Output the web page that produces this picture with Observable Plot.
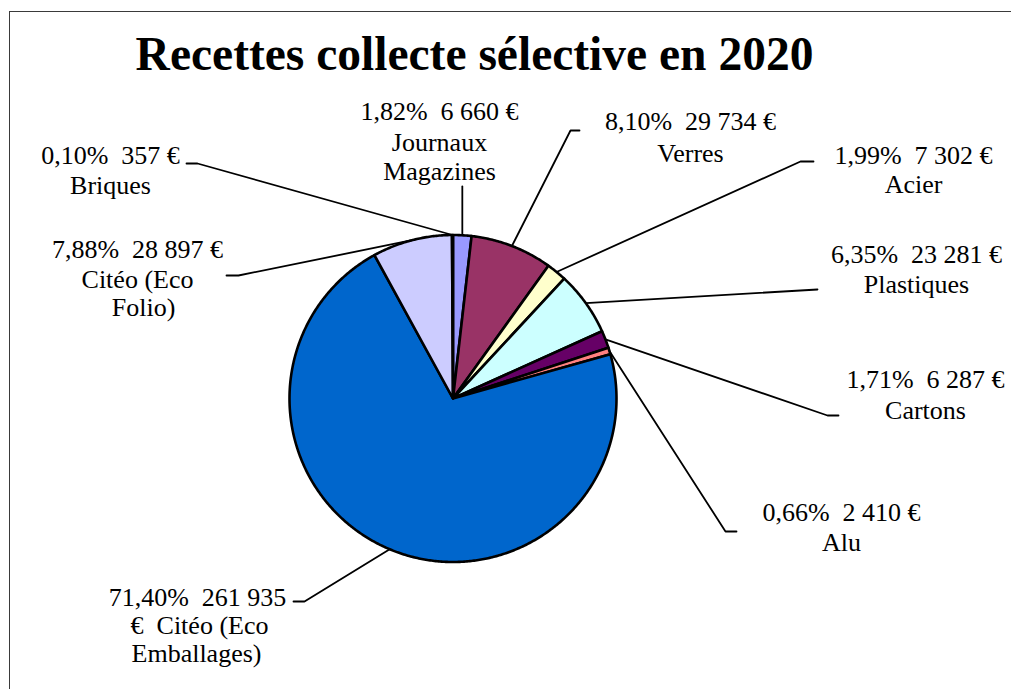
<!DOCTYPE html>
<html>
<head>
<meta charset="utf-8">
<script src="https://cdn.jsdelivr.net/npm/d3@7"></script>
<script src="https://cdn.jsdelivr.net/npm/@observablehq/plot@0.6"></script>
<style>
  html, body { margin: 0; padding: 0; background: #fff; }
  #wrap { position: relative; width: 1011px; height: 689px; overflow: hidden; background: #fff; }
  #frame { position: absolute; left: 9px; top: 11px; width: 1200px; height: 900px;
           border-top: 1.5px solid #3a3a3a; border-left: 1.5px solid #3a3a3a; }
  #title { position: absolute; left: 0; top: 31px; width: 949px; text-align: center;
           font: bold 47.5px "Liberation Serif", "Times New Roman", serif; line-height: 47.5px; color: #000; }
  #chart { position: absolute; left: 0; top: 90px; }
  #chart svg text { white-space: pre; }
</style>
</head>
<body>
<div id="wrap">
  <div id="frame"></div>
  <div id="title">Recettes collecte sélective en 2020</div>
  <div id="chart"></div>
</div>
<script>
// ---- data ----
const categories = ["Journaux Magazines", "Verres", "Acier", "Plastiques", "Cartons", "Alu",
                    "Citéo (Eco Emballages)", "Citéo (Eco Folio)", "Briques"];
const amounts = [6660, 29734, 7302, 23281, 6287, 2410, 261935, 28897, 357];
const colors = ["#9999FF", "#993366", "#FFFFCC", "#CCFFFF", "#660066", "#FF8080", "#0066CC", "#CCCCFF", "#000080"];
const labelLines = [
  ["1,82%  6 660 €", "Journaux", "Magazines"],
  ["8,10%  29 734 €", "Verres"],
  ["1,99%  7 302 €", "Acier"],
  ["6,35%  23 281 €", "Plastiques"],
  ["1,71%  6 287 €", "Cartons"],
  ["0,66%  2 410 €", "Alu"],
  ["71,40%  261 935", "€  Citéo (Eco", "Emballages)"],
  ["7,88%  28 897 €", "Citéo (Eco", "Folio)"],
  ["0,10%  357 €", "Briques"]
];

// ---- layout (page pixel space) ----
const W = 1011, H = 689, TOP = 90;
const cx = 452.5, cy = 398, R = 163.5;
const fontSize = 26;
// label: x centre per line, baseline of each line
const labelLayout = [
  {x: [439, 439, 439], y: [119, 150, 179]},
  {x: [690, 690], y: [129, 161]},
  {x: [913, 913], y: [163, 192]},
  {x: [916, 916], y: [262, 292]},
  {x: [925, 925], y: [387, 418]},
  {x: [841, 841], y: [520, 550]},
  {x: [197, 199, 196], y: [605, 633, 661]},
  {x: [137, 137, 143], y: [257, 287, 315]},
  {x: [110, 110], y: [163, 193]}
];
// leader-line bends after leaving the pie edge
const leaderLayout = [
  [[null, 186]],
  [[570, 130], [579, 130]],
  [[800, 161], [813, 161]],
  [[817, 289]],
  [[827, 415], [838, 415]],
  [[725, 531], [736, 531]],
  [[304, 601], [293, 601]],
  [[238, 275], [226, 275]],
  [[197, 163], [186, 163]]
];

const arcs = d3.pie().sort(null).value(d => d)(amounts);
const pt = (a, r) => ({x: cx + r * Math.sin(a), y: cy - r * Math.cos(a)});

const slicePts = [];
arcs.forEach((a, i) => {
  slicePts.push({id: i, x: cx, y: cy, color: colors[i]});
  const n = Math.max(2, Math.ceil((a.endAngle - a.startAngle) / (Math.PI / 360)));
  for (let k = 0; k <= n; k++) {
    const t = a.startAngle + (a.endAngle - a.startAngle) * k / n;
    const p = pt(t, R);
    slicePts.push({id: i, x: p.x, y: p.y, color: colors[i]});
  }
});

const leaderPts = [];
arcs.forEach((a, i) => {
  const mid = (a.startAngle + a.endAngle) / 2;
  const e = pt(mid, R);
  leaderPts.push({id: i, x: e.x, y: e.y});
  leaderLayout[i].forEach(([x, y]) => leaderPts.push({id: i, x: x == null ? e.x : x, y}));
});

const textPts = [];
labelLines.forEach((lines, i) => {
  lines.forEach((t, j) => {
    textPts.push({text: t, x: labelLayout[i].x[j], y: labelLayout[i].y[j] - 0.32 * fontSize});
  });
});

const chart = Plot.plot({
  width: W,
  height: H - TOP,
  margin: 0,
  x: {domain: [0, W], range: [0, W], axis: null},
  y: {domain: [TOP, H], range: [0, H - TOP], axis: null},
  color: {type: "identity"},
  style: {background: "transparent", overflow: "visible"},
  marks: [
    Plot.line(slicePts, {x: "x", y: "y", z: "id", fill: "color", stroke: "#000", strokeWidth: 2.6,
                         curve: "linear-closed", strokeLinejoin: "round"}),
    Plot.line(leaderPts, {x: "x", y: "y", z: "id", stroke: "#000", strokeWidth: 1.8}),
    Plot.text(textPts, {x: "x", y: "y", text: "text", textAnchor: "middle", fontSize,
                        fontFamily: "'Liberation Serif', 'Times New Roman', serif", fill: "#000"})
  ]
});
document.getElementById("chart").appendChild(chart);
</script>
</body>
</html>
